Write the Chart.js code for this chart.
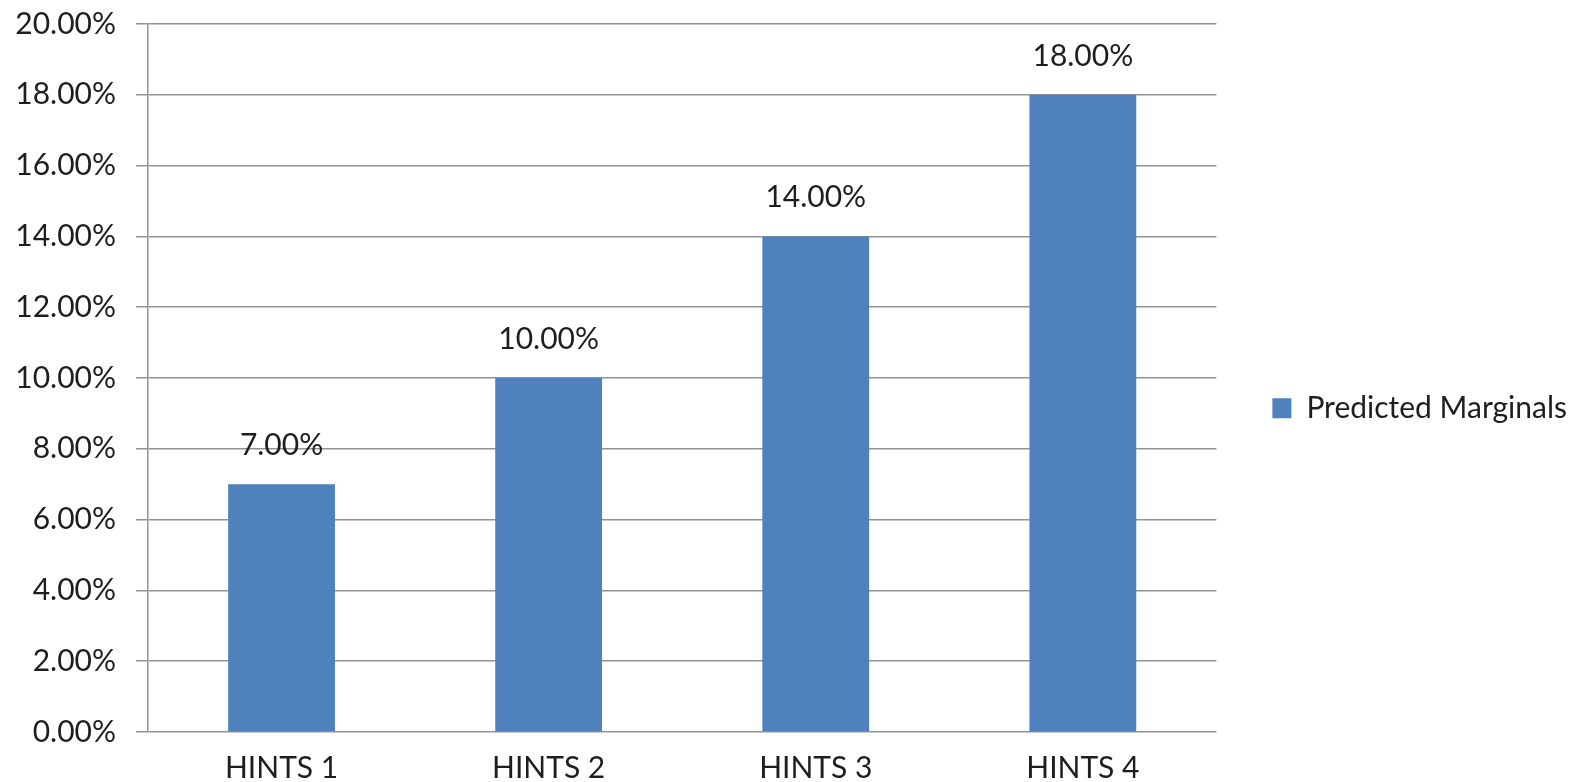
<!DOCTYPE html>
<html>
<head>
<meta charset="utf-8">
<script src="https://cdn.jsdelivr.net/npm/chart.js@4"></script>
<style>
  html, body { margin: 0; padding: 0; background: #ffffff; }
  #wrap { width: 1594px; height: 782px; }
</style>
</head>
<body>
<div id="wrap"><canvas id="c" width="1594" height="782"></canvas></div>
<script>
const categories = ['HINTS 1', 'HINTS 2', 'HINTS 3', 'HINTS 4'];
const seriesName = 'Predicted Marginals';
const seriesValues = [7, 10, 14, 18];
const dataLabels = ['7.00%', '10.00%', '14.00%', '18.00%'];
const yTickLabels = ['0.00%', '2.00%', '4.00%', '6.00%', '8.00%', '10.00%', '12.00%', '14.00%', '16.00%', '18.00%', '20.00%'];

const FONT = 'Lato, "Open Sans", sans-serif';
const TEXT = '#1e1e1e';

const valueLabelPlugin = {
  id: 'valueLabels',
  afterDatasetsDraw(chart) {
    const ctx = chart.ctx;
    const meta = chart.getDatasetMeta(0);
    ctx.save();
    ctx.font = '30px ' + FONT;
    ctx.fillStyle = TEXT;
    ctx.textAlign = 'center';
    ctx.textBaseline = 'alphabetic';
    meta.data.forEach((bar, i) => {
      ctx.fillText(dataLabels[i], bar.x, bar.y - 29);
    });
    ctx.restore();
  }
};

new Chart(document.getElementById('c'), {
  type: 'bar',
  data: {
    labels: categories,
    datasets: [{
      label: seriesName,
      data: seriesValues,
      backgroundColor: '#4F81BD',
      borderWidth: 0,
      barPercentage: 0.4,
      categoryPercentage: 1.0
    }]
  },
  options: {
    responsive: false,
    animation: false,
    layout: { padding: { top: 24, right: 17, bottom: 0, left: 0 } },
    scales: {
      x: {
        grid: { display: false, drawTicks: false },
        border: { display: false },
        ticks: { color: TEXT, font: { family: FONT, size: 30 }, padding: 18 },
        afterFit(scale) { scale.height = 50; }
      },
      y: {
        min: 0, max: 20,
        ticks: {
          stepSize: 2,
          color: TEXT,
          font: { family: FONT, size: 30, lineHeight: 0.1 },
          padding: 20,
          callback: (v, i) => yTickLabels[i]
        },
        grid: { color: '#939393', lineWidth: 1.5, tickLength: 12, drawTicks: true },
        border: { display: true, color: '#939393', width: 1.5 },
        afterFit(scale) { scale.width = 148; }
      }
    },
    plugins: {
      tooltip: { enabled: false },
      legend: {
        position: 'right',
        align: 'center',
        title: { display: true, text: '', font: { size: 6 }, padding: { top: 2, bottom: 1.5 } },
        labels: {
          boxWidth: 19,
          boxHeight: 20,
          padding: 56,
          color: TEXT,
          font: { family: FONT, size: 30 }
        }
      }
    }
  },
  plugins: [valueLabelPlugin]
});
</script>
</body>
</html>
